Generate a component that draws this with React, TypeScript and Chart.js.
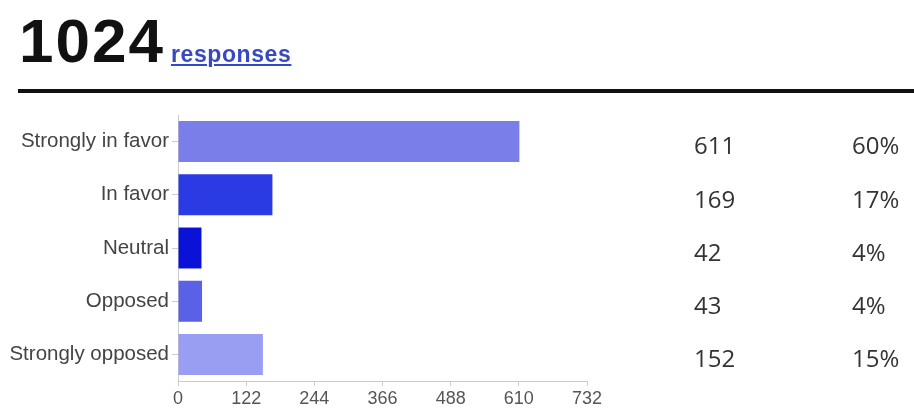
import React, { useEffect, useRef } from "react";
import { Chart, registerables } from "chart.js";

Chart.register(...registerables);

const totalResponses = "1024";
const categories = ["Strongly in favor", "In favor", "Neutral", "Opposed", "Strongly opposed"];
const counts = [611, 169, 42, 43, 152];
const percentLabels = ["60%", "17%", "4%", "4%", "15%"];
const barColors = ["#7a7ee9", "#2b3be3", "#0a12d8", "#5a61e6", "#9a9ef2"];
const xMax = 732;
const xStep = 122;

const sidePlugin = {
  id: "sideNumbers",
  afterDraw(chart: any) {
    const ctx = chart.ctx;
    const y = chart.scales.y;
    ctx.save();
    ctx.font = '24px "Open Sans"';
    ctx.fillStyle = "#333";
    ctx.textBaseline = "middle";
    ctx.textAlign = "left";
    counts.forEach((c, i) => {
      const py = y.getPixelForValue(i) + 6;
      ctx.fillText(String(c), 694, py);
      ctx.fillText(percentLabels[i], 852, py);
    });
    ctx.restore();
  },
};

export default function App() {
  const ref = useRef<HTMLCanvasElement>(null);
  useEffect(() => {
    if (!ref.current) return;
    const chart = new Chart(ref.current, {
      type: "bar",
      data: {
        labels: categories,
        datasets: [
          {
            data: counts,
            backgroundColor: barColors,
            borderWidth: 0,
            barPercentage: 0.77,
            categoryPercentage: 1,
          },
        ],
      },
      options: {
        indexAxis: "y",
        animation: false,
        responsive: false,
        maintainAspectRatio: false,
        layout: { padding: { top: 115, right: 327, bottom: 0, left: 0 } },
        plugins: { legend: { display: false }, tooltip: { enabled: false } },
        scales: {
          x: {
            min: 0,
            max: xMax,
            ticks: {
              stepSize: xStep,
              color: "#555",
              font: { family: "Liberation Sans, Arial", size: 18 },
              padding: 2,
            },
            grid: { display: true, drawOnChartArea: false, drawTicks: true, tickLength: 5, color: "#ccc" },
            border: { display: true, color: "#ccc" },
            afterFit: (scale: any) => {
              scale.height = 27;
            },
          },
          y: {
            ticks: {
              color: "#444",
              font: { family: "Liberation Sans, Arial", size: 20.5 },
              padding: 3,
            },
            grid: { display: true, drawOnChartArea: false, drawTicks: true, tickLength: 6, offset: false, color: "#ccc" },
            border: { display: true, color: "#ccc" },
            afterFit: (scale: any) => {
              scale.width = 178;
            },
          },
        },
      },
      plugins: [sidePlugin],
    });
    return () => chart.destroy();
  }, []);

  return (
    <div style={{ position: "fixed", left: 0, top: 0, width: 914, height: 408, background: "#fff", overflow: "hidden" }}>
      <canvas ref={ref} width={914} height={408} style={{ position: "absolute", left: 0, top: 0 }} />
      <div
        style={{
          position: "absolute",
          left: 19,
          top: 10,
          lineHeight: 1,
          fontFamily: "Liberation Sans, Arial, sans-serif",
          whiteSpace: "nowrap",
        }}
      >
        <span style={{ fontSize: 62, fontWeight: 700, color: "#111", letterSpacing: 2 }}>{totalResponses}</span>
        <span
          style={{
            fontSize: 23,
            fontWeight: 700,
            color: "#3748c4",
            textDecoration: "underline",
            marginLeft: 6,
            letterSpacing: 0.6,
          }}
        >
          responses
        </span>
      </div>
      <div style={{ position: "absolute", left: 18, right: 0, top: 89, height: 4, background: "#111" }} />
    </div>
  );
}
